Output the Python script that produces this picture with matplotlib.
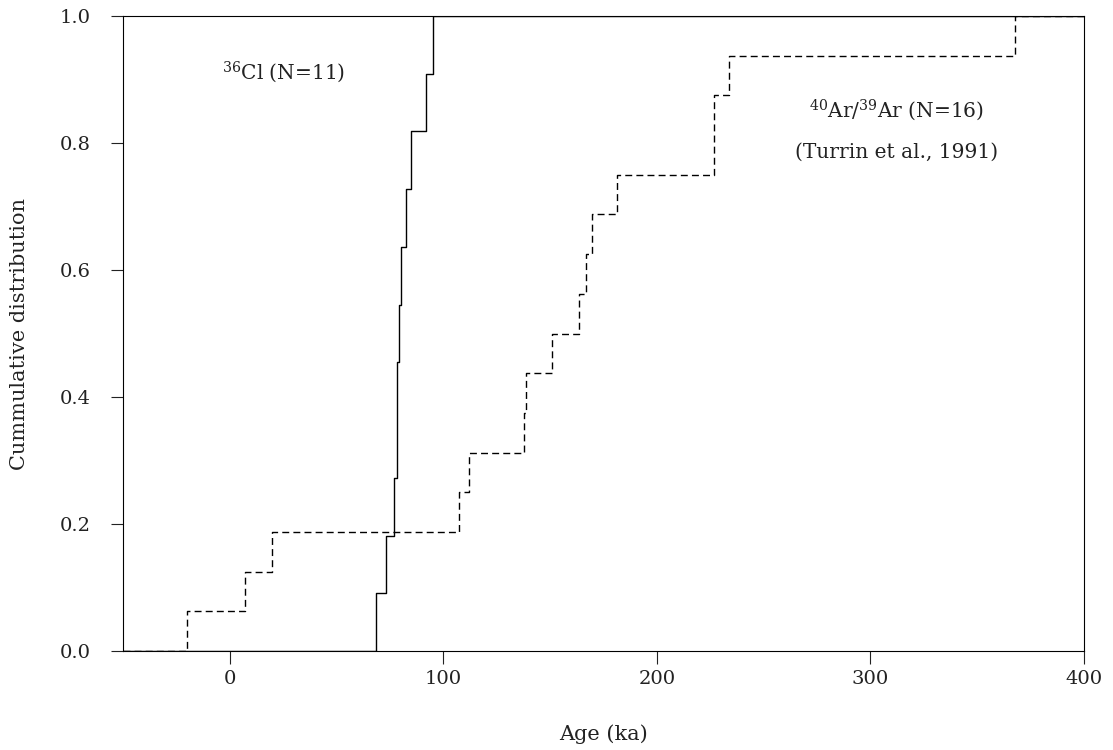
import numpy as np
import matplotlib
matplotlib.use('Agg')
import matplotlib.pyplot as plt
from matplotlib import rcParams

# 字体设置
rcParams['font.family'] = ['DejaVu Serif']
rcParams['mathtext.fontset'] = 'dejavuserif'

# 年龄数据 (ka)
cl_ages = [68.5, 73.1, 77.0, 78.4, 78.4, 79.2, 80.1, 82.75, 84.8, 92.1, 95.2]
ar_ages = [-20.0, 7.0, 19.8, 107.4, 112.0, 137.7, 138.7, 150.8, 163.5,
           167.0, 169.4, 181.3, 226.9, 226.9, 233.9, 367.9]

x_ticks = [0, 100, 200, 300, 400]
y_ticks = [0.0, 0.2, 0.4, 0.6, 0.8, 1.0]
x_min, x_max = -50, 400
text_color = '#222222'


def ecdf_steps(ages):
    ages = np.sort(np.asarray(ages))
    n = len(ages)
    x = np.concatenate([[x_min], ages, [x_max]])
    y = np.concatenate([[0.0], np.arange(1, n + 1) / n, [1.0]])
    return x, y


fig = plt.figure(figsize=(11.13, 7.5), dpi=100)
ax = fig.add_axes([123 / 1113, 1 - 651 / 750, (1084 - 123) / 1113, (651 - 16) / 750])

# 36Cl: 实线
cx, cy = ecdf_steps(cl_ages)
ax.step(cx, cy, where='post', color='black', lw=1.0)

# 40Ar/39Ar: 虚线
arx, ary = ecdf_steps(ar_ages)
ax.step(arx, ary, where='post', color='black', lw=1.0, linestyle=(0, (5, 3)))

ax.set_xlim(x_min, x_max)
ax.set_ylim(0, 1)
ax.set_xticks(x_ticks)
ax.set_yticks(y_ticks)
ax.set_yticklabels([f'{v:.1f}' for v in y_ticks])

for s in ax.spines.values():
    s.set_linewidth(0.8)
ax.tick_params(direction='out', length=9, width=0.8, labelsize=14, colors=text_color)
ax.tick_params(axis='x', pad=5)
ax.tick_params(axis='y', pad=14)

ax.set_xlabel('Age (ka)', fontsize=15, labelpad=26, color=text_color)
ax.set_ylabel('Cummulative distribution', fontsize=15, labelpad=22, color=text_color)

ax.text(-3.7, 0.912, r'$^{36}$Cl (N=11)', fontsize=14.5, va='center', ha='left', color=text_color)
ax.text(312, 0.852, r'$^{40}$Ar/$^{39}$Ar (N=16)', fontsize=14.5, va='center', ha='center', color=text_color)
ax.text(312, 0.786, '(Turrin et al., 1991)', fontsize=14.5, va='center', ha='center', color=text_color)

fig.savefig('out.png', dpi=100)
